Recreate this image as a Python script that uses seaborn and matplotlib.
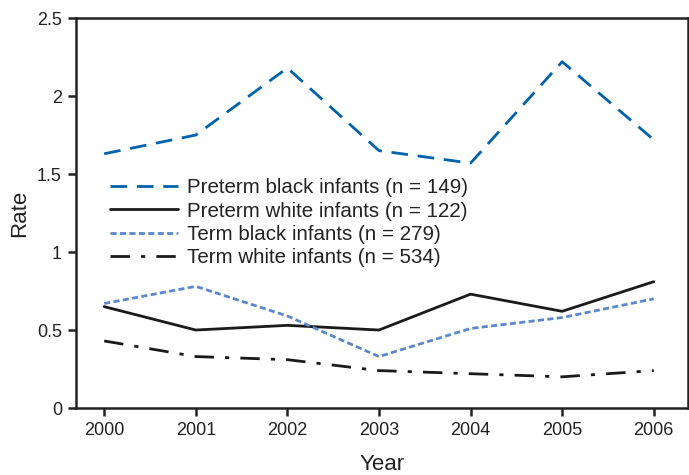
import matplotlib
matplotlib.use("Agg")
import matplotlib.pyplot as plt
import seaborn as sns
import pandas as pd

years = [2000, 2001, 2002, 2003, 2004, 2005, 2006]
preterm_black = [1.63, 1.75, 2.18, 1.65, 1.57, 2.22, 1.72]
preterm_white = [0.65, 0.50, 0.53, 0.50, 0.73, 0.62, 0.81]
term_black = [0.67, 0.78, 0.59, 0.33, 0.51, 0.58, 0.70]
term_white = [0.43, 0.33, 0.31, 0.24, 0.22, 0.20, 0.24]
labels = ["Preterm black infants (n = 149)", "Preterm white infants (n = 122)",
          "Term black infants (n = 279)", "Term white infants (n = 534)"]
y_ticks = [0, 0.5, 1, 1.5, 2, 2.5]
y_ticklabels = ["0", "0.5", "1", "1.5", "2", "2.5"]

sns.set_theme(style="ticks")
plt.rcParams['font.family'] = ['Liberation Sans', 'DejaVu Sans']

fig = plt.figure(figsize=(6.89, 4.75), dpi=100)
ax = fig.add_axes([0.110, 0.141, 0.888, 0.821])

series = [preterm_black, preterm_white, term_black, term_white]
colors = ["#0062AC", "#1a1a1a", "#5B88CC", "#1a1a1a"]
dashes = [(6, 3.5), None, (2.2, 1.2), (7, 4, 1.5, 4)]
widths = [2.0, 2.0, 2.0, 2.0]

for vals, lab, c, d, w in zip(series, labels, colors, dashes, widths):
    df = pd.DataFrame({"Year": years, "Rate": vals})
    sns.lineplot(data=df, x="Year", y="Rate", ax=ax, color=c, linewidth=w, label=lab)
    ln = ax.lines[-1]
    if d is not None:
        ln.set_dashes(d)

ax.set_xlim(1999.69, 2006.37)
ax.set_ylim(0, 2.5)
ax.set_xticks(years)
ax.set_xticklabels([str(y) for y in years])
ax.set_yticks(y_ticks)
ax.set_yticklabels(y_ticklabels)
ax.tick_params(axis="both", labelsize=13, length=6, width=1.8, color="#222222", labelcolor="#222222", pad=4)
for s in ax.spines.values():
    s.set_linewidth(1.8)
    s.set_color("#222222")
ax.set_xlabel("Year", fontsize=16, color="#222222", labelpad=11)
ax.set_ylabel("Rate", fontsize=16, color="#222222", labelpad=5)

leg = ax.legend(loc="upper left", bbox_to_anchor=(0.043, 0.61), frameon=False,
                fontsize=14.8, handlelength=3.3, handletextpad=0.45, labelspacing=0.21,
                borderaxespad=0)
for t in leg.get_texts():
    t.set_color("#222222")

fig.savefig("out.png", dpi=100)
